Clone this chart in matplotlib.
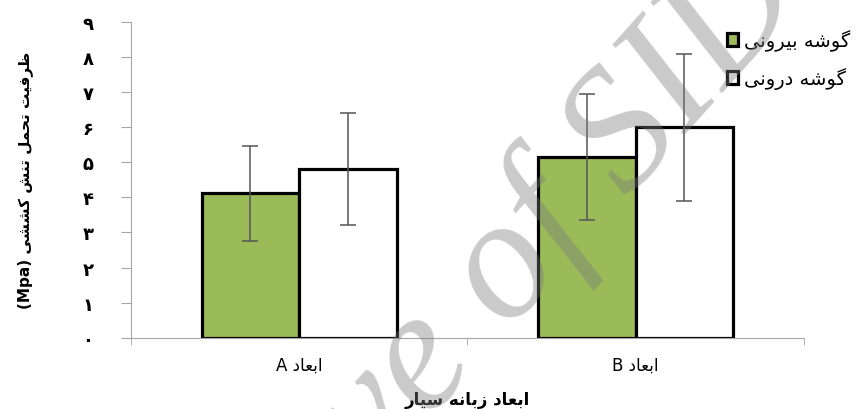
"""
ظرفیت تحمل تنش کششی برای دو ابعاد زبانه
"""
import numpy as np
import matplotlib
matplotlib.use('Agg')
import matplotlib.pyplot as plt

plt.rcParams['font.family'] = ['DejaVu Sans']

# داده ها
categories = ['A', 'B']
outer = [4.11, 5.16]      # گوشه بیرونی
outer_err = [1.35, 1.80]
inner = [4.81, 6.00]      # گوشه درونی
inner_err = [1.60, 2.10]
yticks = list(range(10))
fa_digits = '۰۱۲۳۴۵۶۷۸۹'

# شکل های حروف (تنها، پایانی، آغازی، میانی)
FORMS = {
    'ا': (0xFE8D, 0xFE8E), 'ب': (0xFE8F, 0xFE90, 0xFE91, 0xFE92),
    'ت': (0xFE95, 0xFE96, 0xFE97, 0xFE98), 'ح': (0xFEA1, 0xFEA2, 0xFEA3, 0xFEA4),
    'د': (0xFEA9, 0xFEAA), 'ر': (0xFEAD, 0xFEAE), 'ز': (0xFEAF, 0xFEB0),
    'س': (0xFEB1, 0xFEB2, 0xFEB3, 0xFEB4), 'ش': (0xFEB5, 0xFEB6, 0xFEB7, 0xFEB8),
    'ظ': (0xFEC5, 0xFEC6, 0xFEC7, 0xFEC8), 'ع': (0xFEC9, 0xFECA, 0xFECB, 0xFECC),
    'ف': (0xFED1, 0xFED2, 0xFED3, 0xFED4), 'ل': (0xFEDD, 0xFEDE, 0xFEDF, 0xFEE0),
    'م': (0xFEE1, 0xFEE2, 0xFEE3, 0xFEE4), 'ن': (0xFEE5, 0xFEE6, 0xFEE7, 0xFEE8),
    'ه': (0xFEE9, 0xFEEA, 0xFEEB, 0xFEEC), 'و': (0xFEED, 0xFEEE),
    'ی': (0xFBFC, 0xFBFD, 0xFBFE, 0xFBFF), 'ک': (0xFB8E, 0xFB8F, 0xFB90, 0xFB91),
    'گ': (0xFB92, 0xFB93, 0xFB94, 0xFB95),
}


def fa(text):
    """اتصال حروف و برگرداندن ترتیب برای نمایش راست به چپ"""
    out = []
    for i, ch in enumerate(text):
        if ch not in FORMS:
            out.append(ch)
            continue
        f = FORMS[ch]
        prev = text[i - 1] if i > 0 else ''
        nxt = text[i + 1] if i < len(text) - 1 else ''
        jp = prev in FORMS and len(FORMS[prev]) == 4
        jn = len(f) == 4 and nxt in FORMS
        if jp and jn:
            code = f[3]
        elif jp:
            code = f[1]
        elif jn:
            code = f[2]
        else:
            code = f[0]
        out.append(chr(code))
    return ''.join(out)[::-1]


fig = plt.figure(figsize=(8.67, 4.10), dpi=100)
ax = fig.add_axes([0.151, 0.174, 0.776, 0.770])

x = np.arange(len(categories))
width = 0.29
ax.bar(x - width / 2, outer, width, color='#9BBB59', edgecolor='black',
       linewidth=2.3, label=fa('گوشه بیرونی'), zorder=2)
ax.bar(x + width / 2, inner, width, color='white', edgecolor='black',
       linewidth=2.3, label=fa('گوشه درونی'), zorder=2)
ax.errorbar(x - width / 2, outer, yerr=outer_err, fmt='none', ecolor='#555555',
            elinewidth=1.1, capsize=5.5, capthick=1.1, zorder=3)
ax.errorbar(x + width / 2, inner, yerr=inner_err, fmt='none', ecolor='#555555',
            elinewidth=1.1, capsize=5.5, capthick=1.1, zorder=3)

ax.set_xlim(-0.5, len(categories) - 0.5)
ax.set_ylim(0, 9)
ax.set_yticks(yticks)
ax.set_yticklabels([fa_digits[v] for v in yticks], fontsize=13, fontweight='bold')
ax.set_xticks(x)
ax.set_xticklabels([c + ' ' + fa('ابعاد') for c in categories], fontsize=12)
ax.set_xticks([-0.5, 0.5, 1.5], minor=True)
ax.tick_params(axis='x', which='major', length=0, pad=13)
ax.tick_params(axis='x', which='minor', length=5, color='#A6A6A6', direction='out')
ax.tick_params(axis='y', length=7, color='#A6A6A6', direction='out', pad=20)

for s in ['top', 'right']:
    ax.spines[s].set_visible(False)
for s in ['left', 'bottom']:
    ax.spines[s].set_color('#A6A6A6')

ax.set_ylabel('(Mpa) ' + fa('ظرفیت تحمل تنش کششی'), fontsize=11, fontweight='bold')
ax.yaxis.set_label_coords(-0.145, 0.5)
ax.set_xlabel(fa('ابعاد زبانه سیار'), fontsize=12, fontweight='bold', labelpad=12)

fig.legend(loc='upper left', bbox_to_anchor=(0.829, 0.945), frameon=False,
           fontsize=14, handlelength=0.6, handleheight=0.6, handletextpad=0.3,
           labelspacing=0.85, borderaxespad=0)

# واترمارک
fig.text(0.503, 0.127, 'Archive of SID', fontsize=125, family='Liberation Serif',
         style='italic', color='#7A7A7A', alpha=0.4, rotation=48,
         rotation_mode='anchor', ha='center', va='center', zorder=10)

fig.savefig('out.png', dpi=100)
